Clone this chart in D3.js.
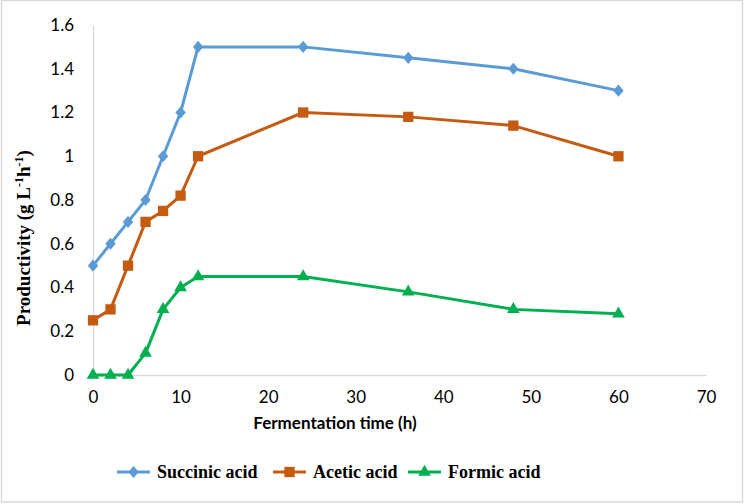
<!DOCTYPE html>
<html>
<head>
<meta charset="utf-8">
<script src="https://cdn.jsdelivr.net/npm/d3@7"></script>
<style>
  body { margin: 0; background: #fff; }
  svg { display: block; }
</style>
</head>
<body>
<div id="chart"></div>
<script>
// data
var hours = [0, 2, 4, 6, 8, 10, 12, 24, 36, 48, 60];
var succinic = [0.5, 0.6, 0.7, 0.8, 1.0, 1.2, 1.5, 1.5, 1.45, 1.4, 1.3];
var acetic = [0.25, 0.3, 0.5, 0.7, 0.75, 0.82, 1.0, 1.2, 1.18, 1.14, 1.0];
var formic = [0, 0, 0, 0.1, 0.3, 0.4, 0.45, 0.45, 0.38, 0.3, 0.28];
var xTicks = [0, 10, 20, 30, 40, 50, 60, 70];
var yTicks = [0, 0.2, 0.4, 0.6, 0.8, 1, 1.2, 1.4, 1.6];
var seriesNames = ["Succinic acid", "Acetic acid", "Formic acid"];

var w = 744, h = 504;

var series = [
  {name: seriesNames[0], values: succinic, color: "#5b9bd5", symbol: d3.symbolDiamond2, size: 95},
  {name: seriesNames[1], values: acetic, color: "#c55a11", symbol: d3.symbolSquare2, size: 135},
  {name: seriesNames[2], values: formic, color: "#00b050", symbol: d3.symbolTriangle2, size: 115}
];

var svg = d3.select("#chart")
  .append("svg")
  .attr("width", w)
  .attr("height", h);

//outer frame//
svg.append("rect")
  .attr("x", 1.5).attr("y", 0.5)
  .attr("width", w - 3).attr("height", h - 2.5)
  .attr("fill", "white")
  .attr("stroke", "#d9d9d9")
  .attr("stroke-width", 1.5);

var x = d3.scaleLinear().domain([0, 70]).range([93, 706]);
var y = d3.scaleLinear().domain([0, 1.6]).range([375, 25]);

//axis lines, no ticks//
var xAxis = svg.append("g")
  .attr("transform", "translate(0," + y(0) + ")")
  .call(d3.axisBottom(x).tickValues(xTicks).tickSize(0).tickPadding(16));

var yAxis = svg.append("g")
  .attr("transform", "translate(" + x(0) + ",0)")
  .call(d3.axisLeft(y).tickValues(yTicks).tickSize(0).tickPadding(19)
    .tickFormat(function(d) { return d3.format("")(+d.toFixed(1)); }));

[xAxis, yAxis].forEach(function(a) {
  a.select(".domain").attr("stroke", "#d9d9d9").attr("stroke-width", 1.3);
  a.selectAll("text")
    .attr("font-family", "Lato, 'Open Sans', sans-serif")
    .attr("font-size", "17px")
    .attr("fill", "#000");
});

//lines and markers//
var line = d3.line()
  .x(function(d) { return x(d.t); })
  .y(function(d) { return y(d.v); });

series.forEach(function(s) {
  var pts = hours.map(function(t, i) { return {t: t, v: s.values[i]}; });

  svg.append("path")
    .datum(pts)
    .attr("d", line)
    .attr("fill", "none")
    .attr("stroke", s.color)
    .attr("stroke-width", 3)
    .attr("stroke-linejoin", "round");

  svg.selectAll(null)
    .data(pts)
    .enter()
    .append("path")
    .attr("d", d3.symbol().type(s.symbol).size(s.size))
    .attr("transform", function(d) {
      return "translate(" + x(d.t) + "," + y(d.v) + ")" + (s.symbol === d3.symbolDiamond2 ? " scale(0.85,1)" : "");
    })
    .attr("fill", s.color);
});

//axis titles//
svg.append("text")
  .attr("x", 335)
  .attr("y", 429)
  .attr("text-anchor", "middle")
  .attr("font-family", "Lato, 'Open Sans', sans-serif")
  .attr("font-weight", "bold")
  .attr("font-size", "17px")
  .text("Fermentation time (h)");

var yTitle = svg.append("text")
  .attr("transform", "translate(30,238) rotate(-90)")
  .attr("text-anchor", "middle")
  .attr("font-family", "'Liberation Serif', 'Times New Roman', serif")
  .attr("font-weight", "bold")
  .attr("font-size", "19px");
yTitle.append("tspan").text("Productivity (g L");
yTitle.append("tspan").attr("dy", -7).attr("font-size", "12px").text("-1");
yTitle.append("tspan").attr("dy", 7).text("h");
yTitle.append("tspan").attr("dy", -7).attr("font-size", "12px").text("-1");
yTitle.append("tspan").attr("dy", 7).text(")");

//legend//
var legendX = [117, 273, 408];
var legend = svg.selectAll(".legend")
  .data(series)
  .enter()
  .append("g")
  .attr("class", "legend")
  .attr("transform", function(d, i) { return "translate(" + legendX[i] + ",472)"; });

legend.append("line")
  .attr("x1", 0).attr("x2", 33)
  .attr("stroke", function(d) { return d.color; })
  .attr("stroke-width", 3);

legend.append("path")
  .attr("d", function(d) { return d3.symbol().type(d.symbol).size(d.size)(); })
  .attr("transform", function(d) {
    return "translate(16.5,0)" + (d.symbol === d3.symbolDiamond2 ? " scale(0.85,1)" : "");
  })
  .attr("fill", function(d) { return d.color; });

legend.append("text")
  .attr("x", 40)
  .attr("y", 6)
  .attr("font-family", "'Liberation Serif', 'Times New Roman', serif")
  .attr("font-weight", "bold")
  .attr("font-size", "18px")
  .text(function(d) { return d.name; });
</script>
</body>
</html>
